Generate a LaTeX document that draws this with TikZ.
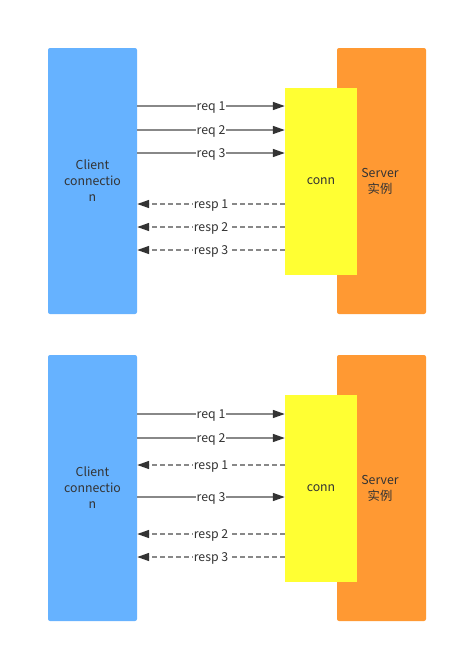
\documentclass[tikz,border=0pt]{standalone}
\usepackage{fontspec}
\setmainfont{Noto Sans CJK SC}
\usetikzlibrary{arrows.meta}
\definecolor{cblue}{HTML}{66B2FF}
\definecolor{corange}{HTML}{FF9933}
\definecolor{cyellow}{HTML}{FFFF33}
\definecolor{ctext}{HTML}{333333}
\definecolor{cline}{HTML}{888888}
\definecolor{ctip}{HTML}{333333}
\tikzset{
  side/.style={rectangle, rounded corners=2pt, inner sep=0pt, minimum width=89pt, minimum height=266pt},
  clientbox/.style={side, fill=cblue},
  serverbox/.style={side, fill=corange},
  connbox/.style={rectangle, inner sep=0pt, fill=cyellow, minimum width=72pt, minimum height=187pt},
  txt/.style={text=ctext, font=\fontsize{12.3}{16}\selectfont, align=center, inner sep=0pt},
  reqline/.style={draw=cline, line width=1.6pt, -{Triangle[length=12pt,width=8pt,color=ctip]}},
  respline/.style={draw=cline, line width=1.6pt, dash pattern=on 5pt off 3pt, -{Triangle[length=12pt,width=8pt,color=ctip]}},
  lbl/.style={txt, fill=white, inner xsep=1pt, inner ysep=1pt, midway, anchor=base, yshift=-4.5pt}
}
\begin{document}
\begin{tikzpicture}[x=1pt,y=-1pt]
\useasboundingbox (0,0) rectangle (459,654);
% top diagram
\node[clientbox] (c1) at (92.5,181) {};
\node[serverbox] (s1) at (381.5,181) {};
\node[connbox] (k1) at (321,181.5) {};
\node[txt] (c1t) at (92.5,181) {Client\\connectio\\n};
\node[txt] (k1t) at (321,181) {conn};
\node[txt] (s1t) at (380,181) {Server\\实例};
\draw[reqline] (c1.east |- 0,106) -- node[lbl] (a1) {req 1} (k1.west |- 0,106);
\draw[reqline] (c1.east |- 0,130) -- node[lbl] (a2) {req 2} (k1.west |- 0,130);
\draw[reqline] (c1.east |- 0,153) -- node[lbl] (a3) {req 3} (k1.west |- 0,153);
\draw[respline] (k1.west |- 0,204) -- node[lbl] (a4) {resp 1} (c1.east |- 0,204);
\draw[respline] (k1.west |- 0,227) -- node[lbl] (a5) {resp 2} (c1.east |- 0,227);
\draw[respline] (k1.west |- 0,250) -- node[lbl] (a6) {resp 3} (c1.east |- 0,250);
% bottom diagram
\node[clientbox] (c2) at (92.5,488) {};
\node[serverbox] (s2) at (381.5,488) {};
\node[connbox] (k2) at (321,488.5) {};
\node[txt] (c2t) at (92.5,488) {Client\\connectio\\n};
\node[txt] (k2t) at (321,488) {conn};
\node[txt] (s2t) at (380,488) {Server\\实例};
\draw[reqline] (c2.east |- 0,414) -- node[lbl] (b1) {req 1} (k2.west |- 0,414);
\draw[reqline] (c2.east |- 0,438) -- node[lbl] (b2) {req 2} (k2.west |- 0,438);
\draw[respline] (k2.west |- 0,465) -- node[lbl] (b3) {resp 1} (c2.east |- 0,465);
\draw[reqline] (c2.east |- 0,497) -- node[lbl] (b4) {req 3} (k2.west |- 0,497);
\draw[respline] (k2.west |- 0,534) -- node[lbl] (b5) {resp 2} (c2.east |- 0,534);
\draw[respline] (k2.west |- 0,557) -- node[lbl] (b6) {resp 3} (c2.east |- 0,557);
\end{tikzpicture}
\end{document}
